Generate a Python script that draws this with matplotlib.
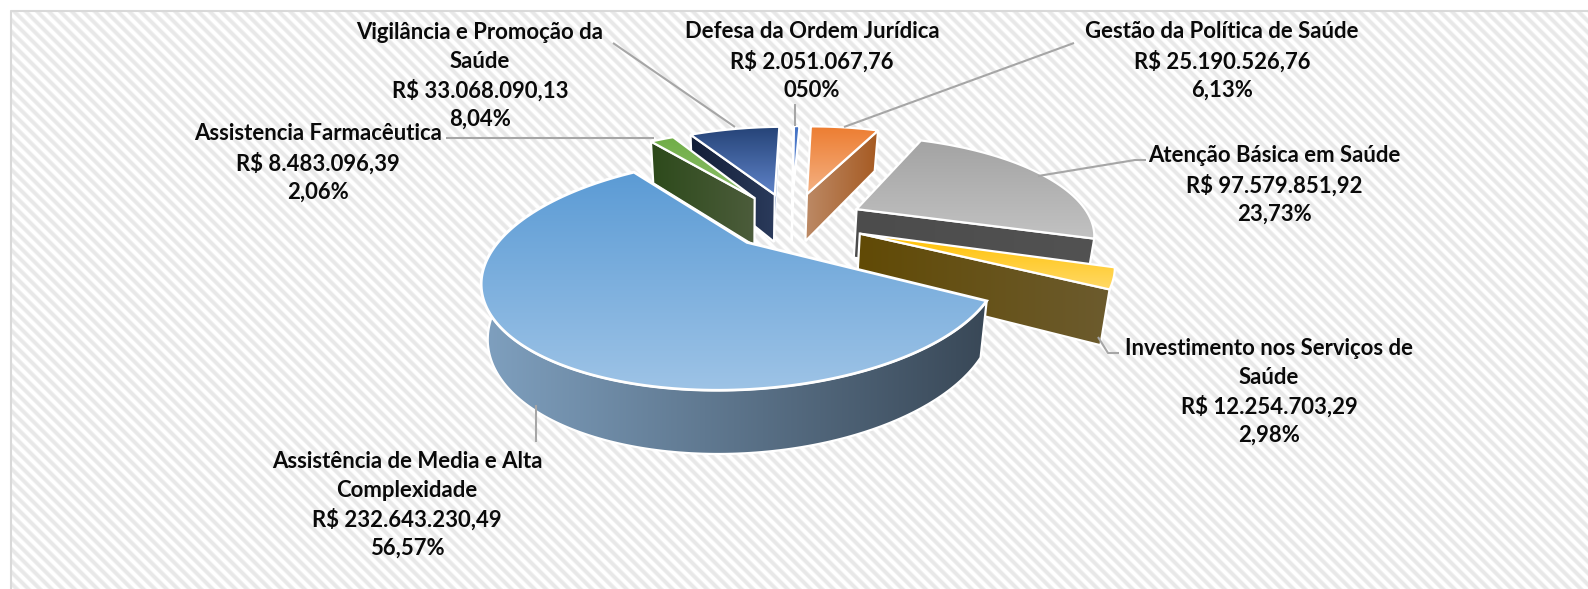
import numpy as np
import matplotlib
matplotlib.use("Agg")
import matplotlib.pyplot as plt
from matplotlib.patches import Polygon

# ---- data ----
categories = ["Gestão da Política de Saúde", "Atenção Básica em Saúde",
              "Investimento nos Serviços de\nSaúde",
              "Assistência de Media e Alta\nComplexidade",
              "Assistencia Farmacêutica",
              "Vigilância e Promoção da\nSaúde",
              "Defesa da Ordem Jurídica"]
values = [25190526.76, 97579851.92, 12254703.29, 232643230.49,
          8483096.39, 33068090.13, 2051067.76]
value_labels = ["R$ 25.190.526,76", "R$ 97.579.851,92", "R$ 12.254.703,29",
                "R$ 232.643.230,49", "R$ 8.483.096,39", "R$ 33.068.090,13",
                "R$ 2.051.067,76"]
pct_labels = ["6,13%", "23,73%", "2,98%", "56,57%", "2,06%", "8,04%", "050%"]

# ---- style ----
W, H = 1588, 589
explode = [0.31, 0.31, 0.31, 0.265, 0.31, 0.31, 0.31]
top_cols = [("#ED7D31", "#F4B183"), ("#A3A3A3", "#C2C2C2"), ("#FFC000", "#FFD966"),
            ("#5B9BD5", "#9DC3E6"), ("#70AD47", "#8CBF6A"), ("#264478", "#5F83C9"),
            ("#4472C4", "#6A90D6")]
wall_cols = [("#BC8A66", "#A65A22"), ("#4C4C4C", "#525252"), ("#614A05", "#6C5B2E"),
             ("#7FA0BF", "#394857"), ("#2D4A1B", "#4C5C3B"), ("#131E37", "#2B3B5C"),
             ("#5B7FC4", "#5B7FC4")]
label_xy = [(1222, 61), (1274, 185), (1269, 392), (407, 505), (318, 163), (480, 76), (812, 61)]
leaders = [[(1074, 43), (844, 127)],
           [(1146, 160), (1135, 160), (1038, 176)],
           [(1098, 337), (1108, 353), (1119, 353)],
           [(536, 405), (536, 442)],
           [(446, 138), (654, 138)],
           [(613, 43), (735, 127)],
           [(795, 104), (795, 126)]]

plt.rcParams["font.family"] = ["Lato", "DejaVu Sans"]
fig = plt.figure(figsize=(W / 100, H / 100), dpi=100)
ax = fig.add_axes([0, 0, 1, 1])
ax.set_xlim(0, W)
ax.set_ylim(H, 0)
ax.axis("off")

# background: diagonal weave inside a thin frame
yy, xx = np.mgrid[0:H, 0:W]
stripe = 0.5 + 0.5 * np.sin(2 * np.pi * (xx - yy) / 11.5)
bg = 1 - 0.09 * np.clip(stripe * 1.6 - 0.3, 0, 1)
bg[:10, :] = 1
bg[:, :10] = 1
ax.imshow(bg, cmap="gray", vmin=0, vmax=1, extent=(0, W, H, 0),
          aspect="auto", interpolation="nearest", zorder=0)
ax.plot([11, 11, W], [H, 11, 11], color="#D9D9D9", lw=1.5, zorder=1)

# projection of the tilted disc
AX, AY = 744.0, 244.0
R, S, K, SHEAR = 250.0, 109.0, 0.27, 0.09
C0 = (0.181, 0.218)


def project(u, v, drop=False):
    d = 1 + K * v
    x = AX + R * (u + SHEAR * v) / d
    y = AY - S * v / d
    if drop:
        x = AX + (x - AX) * 0.975
        y = y + 51.8 / (1 + 0.19 * v)
    return x, y


def rgb(c):
    return np.array(matplotlib.colors.to_rgb(c))


def gradient(pts, cols, horizontal, z, edge="white", lw=1.6):
    pts = np.asarray(pts)
    x0, y0 = pts.min(axis=0)
    x1, y1 = pts.max(axis=0)
    t = np.linspace(0, 1, 128)[:, None]
    arr = rgb(cols[0]) * (1 - t) + rgb(cols[1]) * t
    arr = arr[None, :, :] if horizontal else arr[:, None, :]
    im = ax.imshow(arr, extent=(x0, x1, y1, y0), aspect="auto", zorder=z,
                   interpolation="bilinear")
    poly = Polygon(pts, closed=True, fc="none", ec=edge, lw=lw, zorder=z + 0.1,
                   joinstyle="miter")
    ax.add_patch(poly)
    im.set_clip_path(poly)


total = float(sum(values))
edges = np.concatenate([[0], np.cumsum(values)]) / total * 2 * np.pi

slices = []
for i in range(len(values)):
    a0, a1 = edges[i], edges[i + 1]
    mid = (a0 + a1) / 2
    ou = C0[0] + explode[i] * np.sin(mid)
    ov = C0[1] + explode[i] * np.cos(mid)
    slices.append((a0, a1, ou, ov))


def top_face(i):
    a0, a1, ou, ov = slices[i]
    th = np.linspace(a0, a1, 160)
    return [project(ou, ov)] + [project(ou + np.sin(t), ov + np.cos(t)) for t in th]


def cut_wall(i, a):
    _, _, ou, ov = slices[i]
    e = (ou + np.sin(a), ov + np.cos(a))
    return [project(ou, ov), project(*e), project(*e, drop=True), project(ou, ov, drop=True)]


def arc_wall(i, a0, a1):
    _, _, ou, ov = slices[i]
    th = np.linspace(a0, a1, 200)
    up = [project(ou + np.sin(t), ov + np.cos(t)) for t in th]
    lo = [project(ou + np.sin(t), ov + np.cos(t), drop=True) for t in th[::-1]]
    return up + lo


GESTAO, ATENCAO, INVEST, MAIN, FARMA, VIG, DEF = range(7)
z = 3
# back-to-front painting
for i, wall_edge in [(GESTAO, slices[GESTAO][1]), (DEF, slices[DEF][0]),
                     (VIG, slices[VIG][0]), (FARMA, slices[FARMA][0]),
                     (ATENCAO, slices[ATENCAO][1]), (INVEST, slices[INVEST][1])]:
    gradient(cut_wall(i, wall_edge), wall_cols[i], True, z)
    z += 1
    if i == VIG:  # thin visible inner face on the right edge
        gradient(cut_wall(i, slices[i][1]), ("#8FA6CF", "#B4C4E0"), True, z, lw=0.8)
        z += 1
    gradient(top_face(i), top_cols[i], False, z)
    z += 1

gradient(arc_wall(MAIN, slices[MAIN][0], slices[MAIN][1]), wall_cols[MAIN], True, z)
z += 1
gradient(top_face(MAIN), top_cols[MAIN], False, z, lw=2.0)
z += 1

# leader lines and labels
for path in leaders:
    xs, ys = zip(*path)
    ax.plot(xs, ys, color="#A6A6A6", lw=1.5, zorder=z + 1, solid_capstyle="butt")

for i, (x, y) in enumerate(label_xy):
    ax.text(x, y, f"{categories[i]}\n{value_labels[i]}\n{pct_labels[i]}",
            ha="center", va="center", ma="center", fontsize=15.9, fontweight="bold",
            color="#0A0A0A", linespacing=1.42, zorder=z + 2)

fig.savefig("out.png", dpi=100)
